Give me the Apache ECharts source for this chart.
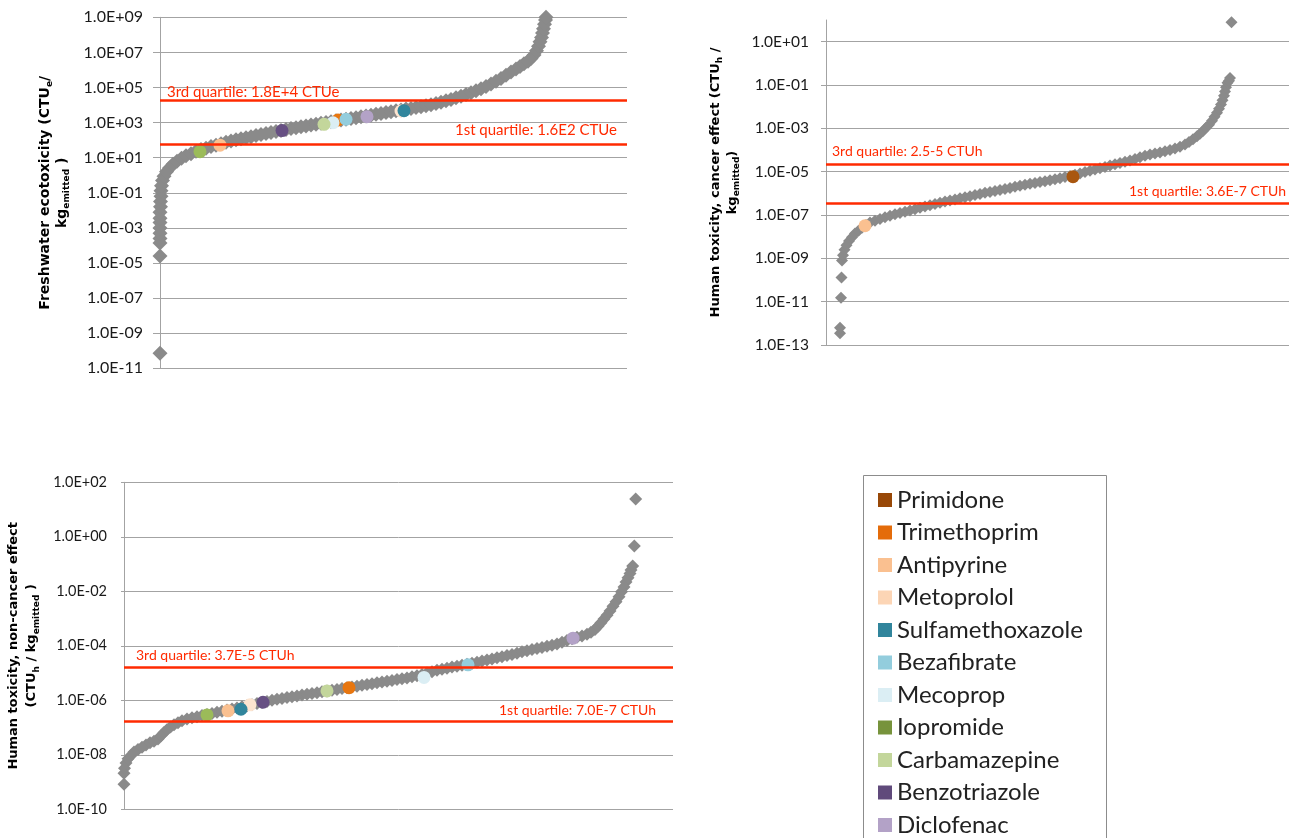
<!DOCTYPE html>
<html>
<head>
<meta charset="utf-8">
<script src="https://cdn.jsdelivr.net/npm/echarts@6/dist/echarts.min.js"></script>
<style>html,body{margin:0;padding:0;background:#fff}#c{width:1291px;height:838px}</style>
</head>
<body>
<div id="c"></div>
<script>
// ---------- DATA ----------
const substances = ['Primidone','Trimethoprim','Antipyrine','Metoprolol','Sulfamethoxazole','Bezafibrate','Mecoprop','Iopromide','Carbamazepine','Benzotriazole','Diclofenac'];

// [rank position of substance, characterisation factor]
const freshwaterCurve = [[0,7.1e-11],[0,2.5e-5],[0,1.4e-4],[0,2.5e-4],[0,5.0e-4],[0,1.0e-3],[0,2.0e-3],[0,3.5e-3],[0,7.9e-3],[0.5,1.6e-2],[0.5,3.2e-2],[1,6.3e-2],[1,0.13],[1.5,0.25],[2.5,0.50],[4,0.89],[6.5,1.6],[9.5,2.6],[13,4.2],[17,6.3],[21.5,9.3],[26,13],[31,17],[36,23],[41,29],[46,35],[51,44],[56,52],[61,63],[66,76],[71,89],[76,105],[81,120],[86,138],[91,158],[96,182],[101,209],[106,240],[111,275],[116,316],[121,355],[126,407],[131,457],[136,513],[141,575],[146,646],[151,724],[156,813],[161,912],[166,1020],[171,1120],[176,1260],[181,1410],[186,1550],[191,1740],[196,1910],[201,2140],[206,2400],[211,2630],[216,2950],[221,3310],[226,3720],[231,4170],[236,4680],[241,5250],[246,5890],[251,6460],[256,7240],[261,8130],[266,9120],[271,1.05e4],[276,1.23e4],[281,1.45e4],[286,1.74e4],[291,2.09e4],[296,2.57e4],[301,3.16e4],[306,3.98e4],[311,5.01e4],[316,6.46e4],[321,8.51e4],[326,1.15e5],[331,1.58e5],[336,2.24e5],[341,3.31e5],[346,5.01e5],[351,7.59e5],[356,1.15e6],[360,1.58e6],[364,2.24e6],[368,3.16e6],[371,4.47e6],[374,7.08e6],[376.5,1.26e7],[378.5,2.24e7],[380,3.98e7],[381.5,7.08e7],[382.5,1.26e8],[383.5,2.24e8],[384.5,3.98e8],[385.5,7.08e8],[386,1.0e9]];

const cancerCurve = [[14,3.5e-13],[14,6.3e-13],[15,1.5e-11],[15.5,1.3e-10],[16,7.9e-10],[17,1.4e-9],[18.5,2.5e-9],[20.5,4.0e-9],[23,6.3e-9],[26,9.5e-9],[29,1.4e-8],[32.5,1.9e-8],[36,2.6e-8],[40,3.5e-8],[44,4.5e-8],[49,5.5e-8],[54,6.6e-8],[59,7.9e-8],[64,9.3e-8],[69,1.07e-7],[74,1.23e-7],[79,1.41e-7],[84,1.62e-7],[89,1.86e-7],[94,2.14e-7],[99,2.45e-7],[104,2.82e-7],[109,3.24e-7],[114,3.72e-7],[119,4.17e-7],[124,4.68e-7],[129,5.25e-7],[134,5.89e-7],[139,6.61e-7],[144,7.41e-7],[149,8.32e-7],[154,9.33e-7],[159,1.05e-6],[164,1.15e-6],[169,1.29e-6],[174,1.41e-6],[179,1.58e-6],[184,1.78e-6],[189,2.0e-6],[194,2.24e-6],[199,2.51e-6],[204,2.75e-6],[209,3.02e-6],[214,3.31e-6],[219,3.63e-6],[224,3.98e-6],[229,4.47e-6],[234,5.01e-6],[239,5.62e-6],[244,6.31e-6],[249,7.24e-6],[254,8.32e-6],[259,9.55e-6],[264,1.10e-5],[269,1.26e-5],[274,1.45e-5],[279,1.66e-5],[284,1.91e-5],[289,2.19e-5],[294,2.51e-5],[299,2.88e-5],[304,3.31e-5],[309,3.89e-5],[314,4.57e-5],[319,5.37e-5],[324,6.17e-5],[329,6.92e-5],[334,7.76e-5],[339,8.71e-5],[344,1.0e-4],[349,1.17e-4],[354,1.41e-4],[359,1.78e-4],[363,2.34e-4],[367,3.16e-4],[371,4.27e-4],[374,5.62e-4],[377,7.59e-4],[380,1.05e-3],[383,1.48e-3],[386,2.24e-3],[388.5,3.39e-3],[391,5.25e-3],[393,7.94e-3],[395,1.26e-2],[396.5,2.0e-2],[398,3.16e-2],[399,5.01e-2],[400,7.94e-2],[401.5,0.126],[403,0.158],[404,0.209],[405.5,79]];

const noncancerCurve = [[0,8.3e-10],[0,2.1e-9],[0.5,3.2e-9],[2,5.0e-9],[4,7.1e-9],[7,9.5e-9],[10,1.26e-8],[14,1.58e-8],[18,1.91e-8],[22,2.29e-8],[26,2.75e-8],[30,3.16e-8],[34,3.8e-8],[37,5.0e-8],[40,6.6e-8],[43,8.3e-8],[46.5,1.05e-7],[50,1.26e-7],[54,1.51e-7],[58,1.78e-7],[63,2.04e-7],[68,2.29e-7],[73,2.51e-7],[78,2.75e-7],[83,3.02e-7],[88,3.31e-7],[93,3.63e-7],[98,3.98e-7],[103,4.37e-7],[108,4.79e-7],[113,5.25e-7],[118,5.75e-7],[123,6.31e-7],[128,6.92e-7],[133,7.59e-7],[138,8.32e-7],[143,9.12e-7],[148,1.0e-6],[153,1.10e-6],[158,1.17e-6],[163,1.26e-6],[168,1.35e-6],[173,1.45e-6],[178,1.55e-6],[183,1.66e-6],[188,1.78e-6],[193,1.91e-6],[198,2.04e-6],[203,2.19e-6],[208,2.34e-6],[213,2.51e-6],[218,2.69e-6],[223,2.88e-6],[228,3.09e-6],[233,3.31e-6],[238,3.55e-6],[243,3.80e-6],[248,4.07e-6],[253,4.37e-6],[258,4.68e-6],[263,5.01e-6],[268,5.37e-6],[273,5.75e-6],[278,6.17e-6],[283,6.61e-6],[288,7.24e-6],[293,7.94e-6],[298,8.91e-6],[303,1.0e-5],[308,1.12e-5],[313,1.26e-5],[318,1.38e-5],[323,1.51e-5],[328,1.66e-5],[333,1.78e-5],[338,1.95e-5],[343,2.09e-5],[348,2.29e-5],[353,2.51e-5],[358,2.75e-5],[363,3.02e-5],[368,3.31e-5],[373,3.63e-5],[378,3.98e-5],[383,4.37e-5],[388,4.79e-5],[393,5.37e-5],[398,6.03e-5],[403,6.61e-5],[408,7.24e-5],[413,7.94e-5],[418,8.71e-5],[423,9.55e-5],[428,1.05e-4],[433,1.17e-4],[438,1.35e-4],[443,1.58e-4],[448,1.82e-4],[453,2.04e-4],[458,2.29e-4],[463,2.63e-4],[467,3.16e-4],[471,3.98e-4],[474,5.25e-4],[477,7.08e-4],[480,9.55e-4],[483,1.32e-3],[486,1.91e-3],[489,2.82e-3],[492,4.17e-3],[495,6.31e-3],[497.5,9.55e-3],[500,1.45e-2],[502,2.19e-2],[504,3.16e-2],[506,4.47e-2],[507,6.03e-2],[508.7,8.51e-2],[510.3,0.457],[511.7,24.5]];

// highlighted pharmaceuticals, aligned with `substances` (null = not shown)
const freshwaterMarks = [null,[178,1410],[60,52],[241,4570],[244,4790],[186,1550],[173,977],[40,22],[164,794],[122,350],[207,2190]];
const cancerMarks     = [[247,5.9e-6],null,[39,3.2e-8],null,null,null,null,null,null,null,null];
const noncancerMarks  = [null,[225,2.9e-6],[104,4.1e-7],[126,6.8e-7],[117,4.7e-7],[344,2.0e-5],[300,6.9e-6],[83,2.9e-7],[203,2.2e-6],[139,8.5e-7],[449,1.9e-4]];

// quartile lines [3rd, 1st] and their texts
const freshwaterQuartiles = [1.8e4, 6.0e1];
const cancerQuartiles     = [2.3e-5, 3.5e-7];
const noncancerQuartiles  = [1.7e-5, 1.7e-7];
const freshwaterQuartileText = ['3rd quartile: 1.8E+4 CTUe', '1st quartile: 1.6E2 CTUe'];
const cancerQuartileText     = ['3rd quartile: 2.5-5 CTUh', '1st quartile: 3.6E-7 CTUh'];
const noncancerQuartileText  = ['3rd quartile: 3.7E-5 CTUh', '1st quartile: 7.0E-7 CTUh'];

// ---------- STYLE ----------
const legendColors = ['#984807','#e46c0a','#fac090','#fcd5b5','#31859c','#93cddd','#dbeef4','#77933c','#c3d69b','#604a7b','#b3a2c7'];
const markColors   = ['#a9570f','#e8760f','#fac090','#fde4cf','#31859c','#93cddd','#dbeef4','#9bbb59','#c3d69b','#675083','#b3a2c7'];
const GRIDC = '#a3a3a3';
const RED = '#ff2a00';
const GREY = '#8a8a8a';

const fmt = v => { const e = Math.round(v); return '1.0E' + (e < 0 ? '-' : '+') + String(Math.abs(e)).padStart(2, '0'); };
const toLog = pts => pts.map(p => [p[0], Math.log10(p[1])]);

const grids = [
  {left: 160, top: 17.3, width: 467, height: 351},
  {left: 826, top: 20, width: 463, height: 325},
  {left: 124, top: 482.3, width: 549, height: 327}
];

function richName(size, lh) {
  return {
    b: {fontFamily: 'DejaVu Sans', fontWeight: 'bold', fontSize: size, color: '#000', lineHeight: lh},
    s: {fontFamily: 'DejaVu Sans', fontWeight: 'bold', fontSize: 9, color: '#000', lineHeight: 9, verticalAlign: 'bottom'}
  };
}

function yAxis(i, min, max, name, nameGap, nameSize, lh, labelSize, tickLen, showMax) {
  return {
    type: 'value', gridIndex: i, min: min, max: max, interval: 2,
    axisLine: {show: true, onZero: false, lineStyle: {color: GRIDC, width: 1}},
    axisTick: {show: true, length: tickLen, lineStyle: {color: GRIDC, width: 1}},
    splitLine: {show: true, showMaxLine: showMax, lineStyle: {color: GRIDC, width: 1}},
    axisLabel: {formatter: fmt, fontFamily: 'Lato', fontSize: labelSize, color: '#1a1a1a', margin: 17, showMaxLabel: showMax},
    name: name, nameLocation: 'middle', nameGap: nameGap,
    nameTextStyle: {rich: richName(nameSize, lh), lineHeight: lh}
  };
}

const yAxes = [
  yAxis(0, -11, 9, '{b|Freshwater ecotoxicity (CTU}{s|e}{b|/}\n{b|kg}{s|emitted}{b| )}', 89, 14, 17, 16, 7, true),
  yAxis(1, -13, 2, '{b|Human toxicity, cancer effect (CTU}{s|h}{b| /}\n{b|kg}{s|emitted}{b|)}', 85, 13, 17, 15.5, 5, false),
  yAxis(2, -10, 2, '{b|Human toxicity, non-cancer effect}\n{b|(CTU}{s|h}{b| / kg}{s|emitted}{b| )}', 83, 13, 18, 14.5, 3, true)
];
const xAxes = grids.map((g, i) => ({type: 'value', gridIndex: i, min: 0, max: g.width, show: false}));

const series = [];
const curves = [freshwaterCurve, cancerCurve, noncancerCurve];
const diamondSizes = [15, 12, 13];
curves.forEach((c, i) => series.push({
  type: 'scatter', xAxisIndex: i, yAxisIndex: i, data: toLog(c), symbol: 'diamond',
  symbolSize: diamondSizes[i], itemStyle: {color: GREY, opacity: 1}, z: 2, clip: false, silent: true
}));

[freshwaterMarks, cancerMarks, noncancerMarks].forEach((marks, i) => {
  marks.forEach((m, j) => {
    if (!m) return;
    series.push({
      type: 'scatter', name: substances[j], xAxisIndex: i, yAxisIndex: i,
      data: toLog([m]), symbol: 'circle', symbolSize: 13,
      itemStyle: {color: markColors[j], opacity: 1}, z: 3, clip: false, silent: true
    });
  });
});

const quartiles = [freshwaterQuartiles, cancerQuartiles, noncancerQuartiles];
const qTexts = [freshwaterQuartileText, cancerQuartileText, noncancerQuartileText];
const qFont = [15, 14, 14];
const qDist = [[[7, 1], [10, 6]], [[6, 5], [3, 5]], [[12, 4], [17, 4]]];
quartiles.forEach((q, i) => {
  series.push({
    type: 'scatter', xAxisIndex: i, yAxisIndex: i, data: [], z: 10, silent: true,
    markLine: {
      silent: true, symbol: ['none', 'none'], animation: false, z: 10,
      lineStyle: {color: RED, width: 2.5, type: 'solid'},
      data: [
        {yAxis: Math.log10(q[0]), label: {show: true, position: 'insideStartTop', formatter: qTexts[i][0], color: RED, fontFamily: 'Lato', fontSize: qFont[i], distance: qDist[i][0]}},
        {yAxis: Math.log10(q[1]), label: {show: true, position: 'insideEndTop', formatter: qTexts[i][1], color: RED, fontFamily: 'Lato', fontSize: qFont[i], distance: qDist[i][1]}}
      ]
    }
  });
});

const chart = echarts.init(document.getElementById('c'), null, {renderer: 'canvas'});
chart.setOption({
  animation: false,
  backgroundColor: '#fff',
  grid: grids,
  xAxis: xAxes,
  yAxis: yAxes,
  legend: {
    orient: 'vertical', left: 873, top: 482, height: 420, itemWidth: 14, itemHeight: 14, itemGap: 6.5,
    icon: 'rect', selectedMode: false,
    data: substances.map((n, j) => ({name: n, itemStyle: {color: legendColors[j]}})),
    textStyle: {fontFamily: 'Lato', fontSize: 24, color: '#222', lineHeight: 26}
  },
  graphic: [{type: 'rect', shape: {x: 863.5, y: 475.5, width: 243, height: 400}, style: {fill: 'none', stroke: '#8c8c8c', lineWidth: 1}, silent: true}],
  series: series
});
</script>
</body>
</html>
